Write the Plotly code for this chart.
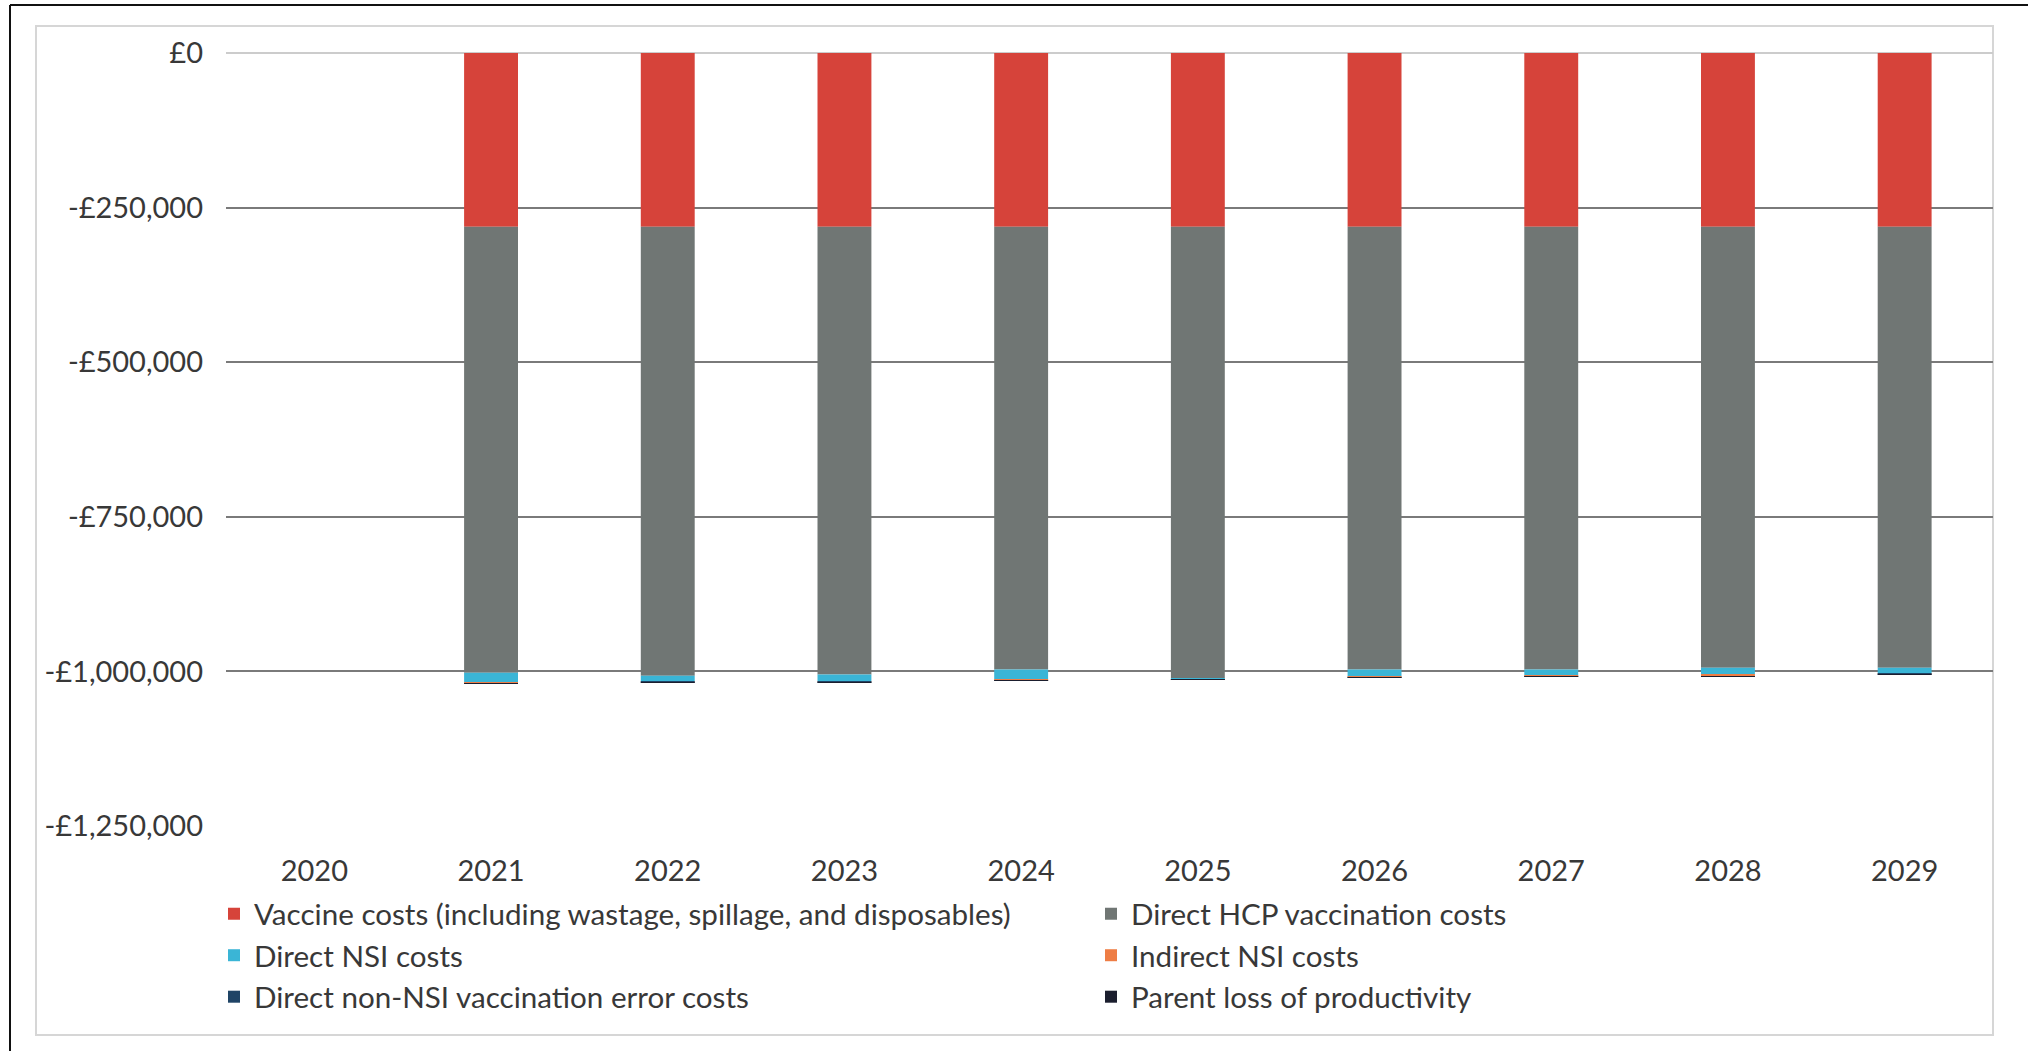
import plotly.graph_objects as go

# Annual cost components (GBP, negative = cost)
years = ["2020", "2021", "2022", "2023", "2024", "2025", "2026", "2027", "2028", "2029"]

vaccine_costs = [0, -281000, -281000, -281000, -281000, -281000, -281000, -281000, -281000, -281000]
direct_hcp_costs = [0, -721000, -726000, -724000, -716000, -730000, -716000, -716000, -713000, -713000]
direct_nsi_costs = [0, -16000, -9000, -11000, -16000, -1500, -12000, -10000, -11000, -9000]
indirect_nsi_costs = [0, -1000, -800, -900, -1000, -200, -800, -1000, -2500, -800]
non_nsi_error_costs = [0, -500, -500, -500, -500, -100, -500, -500, -500, -500]
parent_productivity = [0, -300, -300, -300, -300, -100, -300, -300, -300, -300]

series_names = [
    "Vaccine costs (including wastage, spillage, and disposables)",
    "Direct HCP vaccination costs",
    "Direct NSI costs",
    "Indirect NSI costs",
    "Direct non-NSI vaccination error costs",
    "Parent loss of productivity",
]
series_values = [
    vaccine_costs,
    direct_hcp_costs,
    direct_nsi_costs,
    indirect_nsi_costs,
    non_nsi_error_costs,
    parent_productivity,
]
series_colors = ["#d6433a", "#707674", "#3ab5d6", "#ee7d45", "#1f4466", "#1b1e2e"]

y_tick_values = [0, -250000, -500000, -750000, -1000000, -1250000]
y_tick_labels = ["£0", "-£250,000", "-£500,000", "-£750,000", "-£1,000,000", "-£1,250,000"]

W, H = 2028, 1051
L, R, T, B = 226, 35, 53, 225
pw, ph = W - L - R, H - T - B


def px_x(p):
    return (p - L) / pw


def px_y(p):
    return (H - B - p) / ph


fig = go.Figure()
for name, vals, col in zip(series_names, series_values, series_colors):
    fig.add_trace(go.Bar(x=years, y=vals, name=name, marker=dict(color=col, line=dict(width=0))))

text_color = "#383838"
font_family = "Lato"

fig.update_layout(
    width=W,
    height=H,
    margin=dict(l=L, r=R, t=T, b=B),
    paper_bgcolor="white",
    plot_bgcolor="white",
    barmode="relative",
    bargap=0.695,
    font=dict(family=font_family, size=29, color=text_color),
    xaxis=dict(
        type="category",
        showgrid=False,
        showline=False,
        zeroline=False,
        ticks="",
        ticklabelstandoff=25,
        tickfont=dict(size=29, color=text_color),
    ),
    yaxis=dict(
        range=[-1250000, 0],
        tickvals=y_tick_values,
        ticktext=y_tick_labels,
        showgrid=True,
        gridcolor="#7a7a7a",
        gridwidth=2,
        zeroline=True,
        zerolinecolor="#cccccc",
        zerolinewidth=2,
        showline=False,
        ticks="",
        ticklabelstandoff=22,
        tickfont=dict(size=29, color=text_color),
    ),
    showlegend=True,
    legend=dict(
        orientation="h",
        traceorder="normal",
        x=px_x(214),
        xanchor="left",
        y=px_y(888),
        yanchor="top",
        entrywidth=832,
        entrywidthmode="pixels",
        font=dict(size=29.6, color=text_color),
        bgcolor="rgba(0,0,0,0)",
        itemclick=False,
    ),
    shapes=[
        # light chart-area border
        dict(type="rect", xref="paper", yref="paper",
             x0=px_x(36), x1=px_x(1993), y0=px_y(1035), y1=px_y(26),
             line=dict(color="#d6d6d6", width=2), layer="below"),
        # dark outer frame (left and top edges)
        dict(type="line", xref="paper", yref="paper",
             x0=px_x(10), x1=px_x(10), y0=px_y(1051), y1=px_y(5),
             line=dict(color="#111111", width=2)),
        dict(type="line", xref="paper", yref="paper",
             x0=px_x(10), x1=px_x(2028), y0=px_y(5), y1=px_y(5),
             line=dict(color="#111111", width=2)),
    ],
)

fig.write_html("out.html")
